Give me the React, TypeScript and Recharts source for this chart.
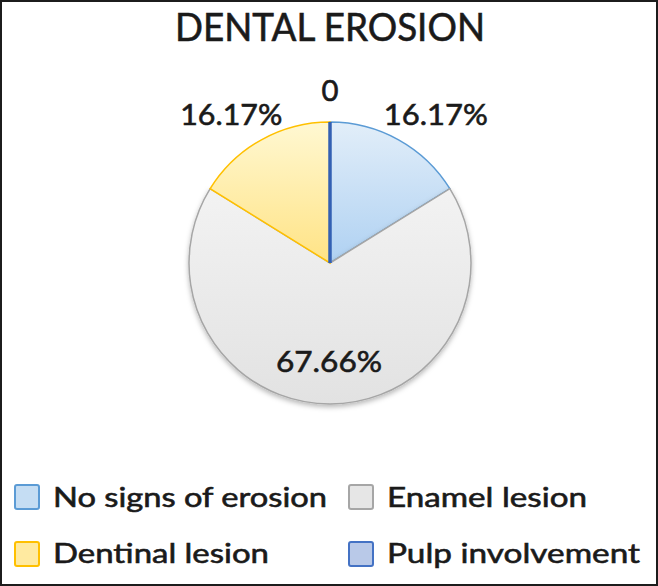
import React from 'react';
import { PieChart, Pie, Cell, Legend } from 'recharts';

const categories = ['No signs of erosion', 'Enamel lesion', 'Dentinal lesion', 'Pulp involvement'];
const percentages = [16.17, 67.66, 16.17, 0];
const chartTitle = 'DENTAL EROSION';

const data = categories.map((name, i) => ({ name, value: percentages[i] }));

const SLICE_FILLS = ['url(#gBlue)', 'url(#gGray)', 'url(#gYellow)', 'url(#gPulp)'];
const SLICE_STROKES = ['#5b9bd5', '#a6a6a6', '#ffc000', '#3360b3'];
const SLICE_STROKE_W = [1.5, 1.5, 1.5, 3.5];
const LEGEND_FILLS = ['#c5ddf3', '#e6e6e6', '#ffeaa0', '#b9c9e8'];
const LEGEND_STROKES = ['#5b9bd5', '#a6a6a6', '#ffc000', '#4472c4'];
const LEGEND_TEXT_LEN = [274, 200, 216, 253];
const LABEL_NUDGE = [
  { dx: 25, dy: 7 },
  { dx: -1, dy: 10 },
  { dx: -18, dy: 7 },
  { dx: 0, dy: 4 },
];
const LABEL_LEN = [104, 106, 102, 17];

const FONT = 'Lato, "Open Sans", sans-serif';
const TEXT_COLOR = '#1a1a1a';
const TEXT_STROKE = 0.6;
const RAD = Math.PI / 180;

function renderLabel(props: any) {
  const { cx, cy, midAngle, outerRadius, index, value } = props;
  const inside = index === 1;
  const r = inside ? outerRadius * 0.7 : outerRadius + 25;
  const n = LABEL_NUDGE[index] || { dx: 0, dy: 0 };
  const cos = Math.cos(-midAngle * RAD);
  const sin = Math.sin(-midAngle * RAD);
  const x = cx + r * cos + n.dx;
  const y = cy + r * sin + n.dy;
  const text = value === 0 ? '0' : `${Number(value).toFixed(2)}%`;
  return (
    <g key={`lbl-${index}`}>
      {value === 0 ? (
        <line
          x1={cx}
          y1={cy}
          x2={cx + outerRadius * cos}
          y2={cy + outerRadius * sin}
          stroke={SLICE_STROKES[index]}
          strokeWidth={SLICE_STROKE_W[index]}
        />
      ) : null}
      <text
        x={x}
        y={y}
        textAnchor="middle"
        fontFamily={FONT}
        fontSize={29}
        fill={TEXT_COLOR}
        stroke={TEXT_COLOR}
        strokeWidth={TEXT_STROKE}
        textLength={LABEL_LEN[index]}
        lengthAdjust="spacingAndGlyphs"
      >
        {text}
      </text>
    </g>
  );
}

function renderLegend(props: any) {
  const payload = props.payload || [];
  const colX = [14, 348];
  const textX = [53, 387];
  const rowSq = [8, 65];
  const rowBase = [31, 87];
  return (
    <svg width={658} height={110} style={{ display: 'block' }}>
      {payload.map((entry: any) => {
        const i = categories.indexOf(entry.value);
        if (i < 0) return null;
        const col = i % 2;
        const row = Math.floor(i / 2);
        return (
          <g key={`leg-${i}`}>
            <rect
              x={colX[col] + 1}
              y={rowSq[row] + 1}
              width={24}
              height={24}
              rx={2}
              fill={LEGEND_FILLS[i]}
              stroke={LEGEND_STROKES[i]}
              strokeWidth={2}
            />
            <text
              x={textX[col]}
              y={rowBase[row]}
              fontFamily={FONT}
              fontSize={27}
              fill={TEXT_COLOR}
              stroke={TEXT_COLOR}
              strokeWidth={TEXT_STROKE}
              textLength={LEGEND_TEXT_LEN[i]}
              lengthAdjust="spacingAndGlyphs"
            >
              {entry.value}
            </text>
          </g>
        );
      })}
    </svg>
  );
}

export default function App() {
  return (
    <div style={{ position: 'relative', width: 658, height: 586, background: '#fff' }}>
      <style>{'body{margin:0;}'}</style>
      <PieChart
        width={658}
        height={586}
        margin={{ top: 0, right: 0, bottom: 0, left: 0 }}
        style={{ position: 'absolute', left: 0, top: 0 }}
      >
        <defs>
          <linearGradient id="gBlue" gradientUnits="userSpaceOnUse" x1="0" y1="122" x2="0" y2="263">
            <stop offset="0" stopColor="#e2eef9" />
            <stop offset="1" stopColor="#afd1f2" />
          </linearGradient>
          <linearGradient id="gYellow" gradientUnits="userSpaceOnUse" x1="0" y1="122" x2="0" y2="263">
            <stop offset="0" stopColor="#fff8d2" />
            <stop offset="1" stopColor="#ffe385" />
          </linearGradient>
          <linearGradient id="gGray" gradientUnits="userSpaceOnUse" x1="0" y1="140" x2="0" y2="404">
            <stop offset="0" stopColor="#f6f6f6" />
            <stop offset="1" stopColor="#e2e2e2" />
          </linearGradient>
          <linearGradient id="gPulp" gradientUnits="userSpaceOnUse" x1="0" y1="122" x2="0" y2="263">
            <stop offset="0" stopColor="#c9d6ef" />
            <stop offset="1" stopColor="#9fb5e0" />
          </linearGradient>
          <filter id="pieShadow" x="-20%" y="-20%" width="140%" height="140%">
            <feDropShadow dx="0" dy="2.5" stdDeviation="2.5" floodColor="#000" floodOpacity="0.28" />
          </filter>
        </defs>
        <Pie
          data={data}
          dataKey="value"
          nameKey="name"
          cx={330}
          cy={263}
          innerRadius={0}
          outerRadius={141}
          startAngle={90}
          endAngle={-270}
          paddingAngle={0}
          label={renderLabel}
          labelLine={false}
          isAnimationActive={false}
        >
          {data.map((d, i) => (
            <Cell
              key={`cell-${i}`}
              fill={SLICE_FILLS[i]}
              stroke={SLICE_STROKES[i]}
              strokeWidth={SLICE_STROKE_W[i]}
              filter={i === 1 ? 'url(#pieShadow)' : undefined}
            />
          ))}
        </Pie>
        <Legend
          content={renderLegend}
          wrapperStyle={{ position: 'absolute', left: 0, top: 476, width: 658, height: 110 }}
        />
      </PieChart>
      <svg
        width={658}
        height={60}
        style={{ position: 'absolute', left: 0, top: 0, pointerEvents: 'none' }}
      >
        <text
          x={175}
          y={41}
          fontFamily={FONT}
          fontSize={39}
          fill={TEXT_COLOR}
          stroke={TEXT_COLOR}
          strokeWidth={TEXT_STROKE}
          textLength={310}
          lengthAdjust="spacingAndGlyphs"
        >
          {chartTitle}
        </text>
      </svg>
      <div
        style={{
          position: 'absolute',
          left: 0,
          top: 0,
          width: 658,
          height: 586,
          boxSizing: 'border-box',
          border: '2px solid #1c1c1c',
          pointerEvents: 'none',
        }}
      />
    </div>
  );
}
